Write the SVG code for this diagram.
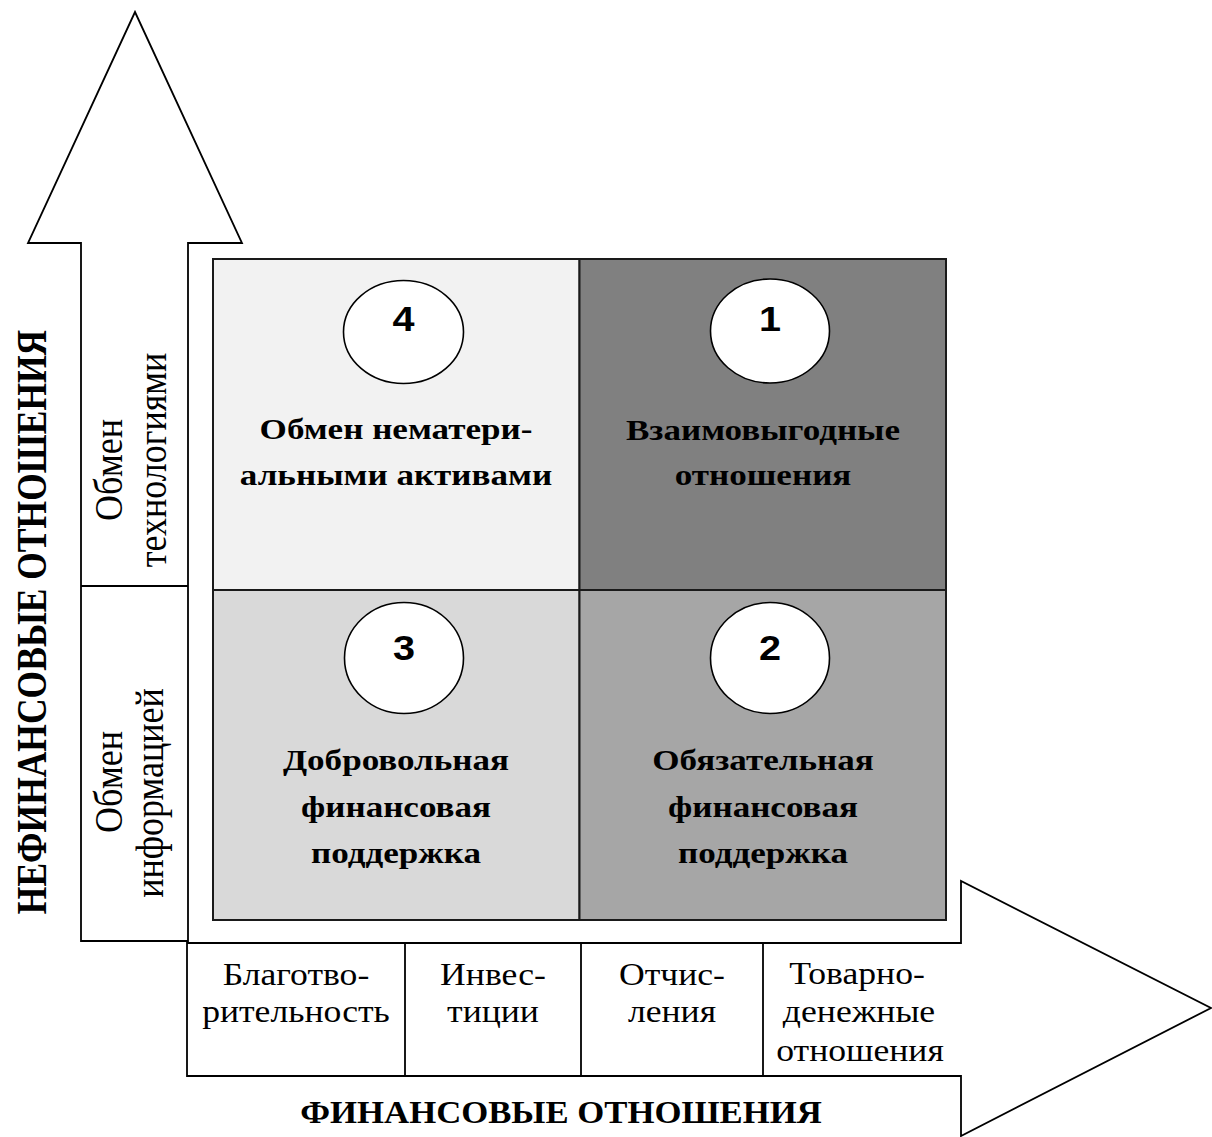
<svg xmlns="http://www.w3.org/2000/svg" width="1212" height="1137" viewBox="0 0 1212 1137">
<style>
.ar{fill:#fff;stroke:#000;stroke-width:1.8;stroke-linejoin:miter}
.ln{stroke:#000;stroke-width:1.8;fill:none}
.q{stroke:#1a1a1a;stroke-width:2}
.c{fill:#fff;stroke:#000;stroke-width:1.6}
.num{font-family:"Liberation Sans",Arial,sans-serif;font-weight:bold;font-size:36px;text-anchor:middle;fill:#000}
.qt{font-family:"Liberation Serif","Times New Roman",serif;font-weight:bold;font-size:30px;text-anchor:middle;fill:#000}
.ct{font-family:"Liberation Serif","Times New Roman",serif;font-size:31px;text-anchor:middle;fill:#000}
.rt{font-family:"Liberation Serif","Times New Roman",serif;font-size:36px;text-anchor:middle;fill:#000}
.tt{font-family:"Liberation Serif","Times New Roman",serif;font-weight:bold;font-size:32px;text-anchor:middle;fill:#000}
</style>
<rect width="1212" height="1137" fill="#fff"/>
<g id="connectors">
<polygon id="arrow-up" class="ar" points="135,12 242,243 188,243 188,941 81,941 81,243 28,243"/>
<line class="ln" x1="81" y1="586" x2="188" y2="586"/>
<polygon id="arrow-right" class="ar" points="187,943 961,943 961,881 1211,1008 961,1136 961,1076 187,1076"/>
<line class="ln" x1="405" y1="943" x2="405" y2="1076"/>
<line class="ln" x1="581" y1="943" x2="581" y2="1076"/>
<line class="ln" x1="763" y1="943" x2="763" y2="1076"/>
</g>
<g id="axis-y-label">
<text class="tt" style="font-size:35.5px" transform="translate(46,622) scale(1.18,1) rotate(-90)">НЕФИНАНСОВЫЕ ОТНОШЕНИЯ</text>
</g>
<g id="axis-x-label">
<text class="tt" transform="translate(561,1123) scale(1.085,1)">ФИНАНСОВЫЕ ОТНОШЕНИЯ</text>
</g>
<g id="y-cell-tech">
<text class="rt" transform="translate(122,470) scale(1.12,1) rotate(-90)">Обмен</text>
<text class="rt" transform="translate(166,460) scale(1.12,1) rotate(-90)">технологиями</text>
</g>
<g id="y-cell-info">
<text class="rt" transform="translate(122,782) scale(1.12,1) rotate(-90)">Обмен</text>
<text class="rt" transform="translate(163,793) scale(1.12,1) rotate(-90)">информацией</text>
</g>
<g id="x-cell-charity">
<text class="ct" transform="translate(296,985) scale(1.15,1)">Благотво-</text>
<text class="ct" transform="translate(296,1022) scale(1.15,1)">рительность</text>
</g>
<g id="x-cell-invest">
<text class="ct" transform="translate(493,985) scale(1.15,1)">Инвес-</text>
<text class="ct" transform="translate(493,1022) scale(1.15,1)">тиции</text>
</g>
<g id="x-cell-deduct">
<text class="ct" transform="translate(672,985) scale(1.15,1)">Отчис-</text>
<text class="ct" transform="translate(672,1022) scale(1.15,1)">ления</text>
</g>
<g id="x-cell-trade">
<text class="ct" transform="translate(857,984) scale(1.15,1)">Товарно-</text>
<text class="ct" transform="translate(859,1022) scale(1.15,1)">денежные</text>
<text class="ct" transform="translate(860,1061) scale(1.15,1)">отношения</text>
</g>
<g id="q4">
<rect class="q" x="213" y="259" width="366.5" height="331" fill="#f2f2f2"/>
<ellipse class="c" cx="403.5" cy="332" rx="60" ry="51.5"/>
<text class="num" transform="translate(403.5,331) scale(1.1,1)">4</text>
<text class="qt" transform="translate(396,439) scale(1.17,1)">Обмен нематери-</text>
<text class="qt" transform="translate(396,485) scale(1.17,1)">альными активами</text>
</g>
<g id="q1">
<rect class="q" x="579.5" y="259" width="366.5" height="331" fill="#808080"/>
<ellipse class="c" cx="770" cy="331" rx="59.5" ry="52"/>
<text class="num" transform="translate(770,331) scale(1.1,1)">1</text>
<text class="qt" transform="translate(763,440) scale(1.17,1)">Взаимовыгодные</text>
<text class="qt" transform="translate(763,485) scale(1.17,1)">отношения</text>
</g>
<g id="q3">
<rect class="q" x="213" y="590" width="366.5" height="330" fill="#d9d9d9"/>
<ellipse class="c" cx="404" cy="658" rx="59.5" ry="55.5"/>
<text class="num" transform="translate(404,660) scale(1.1,1)">3</text>
<text class="qt" transform="translate(396,770) scale(1.17,1)">Добровольная</text>
<text class="qt" transform="translate(396,817) scale(1.17,1)">финансовая</text>
<text class="qt" transform="translate(396,863) scale(1.17,1)">поддержка</text>
</g>
<g id="q2">
<rect class="q" x="579.5" y="590" width="366.5" height="330" fill="#a6a6a6"/>
<ellipse class="c" cx="770" cy="658" rx="59.5" ry="55.5"/>
<text class="num" transform="translate(770,660) scale(1.1,1)">2</text>
<text class="qt" transform="translate(763,770) scale(1.17,1)">Обязательная</text>
<text class="qt" transform="translate(763,817) scale(1.17,1)">финансовая</text>
<text class="qt" transform="translate(763,863) scale(1.17,1)">поддержка</text>
</g>
</svg>
